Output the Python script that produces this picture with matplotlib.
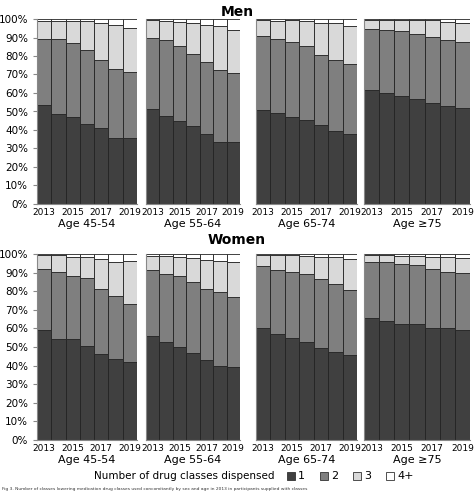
import matplotlib
matplotlib.use("Agg")
import matplotlib.pyplot as plt
import numpy as np

years = [2013, 2014, 2015, 2016, 2017, 2018, 2019]
ages = ["Age 45-54", "Age 55-64", "Age 65-74", "Age \u226575"]
categories = ["1", "2", "3", "4+"]

# cumulative percentages (top of category 1, 2, 3) per panel
men_c1 = [[53.5,48.5,47,43,41,35.5,35.5],[51.5,47.5,45,42,38,33.5,33.5],
          [50.8,49.2,47.2,45.4,42.7,39.3,37.8],[61.6,60,58.2,56.9,54.4,53,51.9]]
men_c2 = [[89,89,87,83,78,73,71.5],[90,88.5,85.5,81,76.5,72.5,71],
          [90.8,89.2,87.4,85.2,80.4,77.7,75.7],[94.8,93.9,93.3,91.9,90.1,88.5,87.6]]
men_c3 = [[99,99,99,99,98,96.5,95],[99.5,99,98.5,98,97,96,94],
          [99.3,99,99.5,99,97.7,97.7,96.4],[99.5,99.5,99.5,99.5,99.5,98.5,98]]
women_c1 = [[59,54.5,54.5,50.5,46,43.5,42],[56,52.5,50,47,43,40,39.5],
            [60.1,57,54.9,52.6,49.4,47.2,45.8],[65.4,63.9,62.5,62.1,60.3,60.3,59.2]]
women_c2 = [[92,90.5,88,87,81,77.5,73],[91.5,89.5,88,85,81,79.5,77],
            [93.7,91.6,90.5,89,86.5,83.7,80.8],[95.9,95.9,94.8,94.1,92.1,90.3,89.9]]
women_c3 = [[99.5,99.5,98.5,98.5,97.5,95.5,96],[99,99,98.5,98,97,96.5,95.5],
            [99.5,99.5,99.5,99,98.5,98.5,97.5],[99.5,99.5,99,99,98.5,98.5,98]]

colors = ["#404040", "#7f7f7f", "#d9d9d9", "#ffffff"]

fig = plt.figure(figsize=(4.74, 4.93), dpi=100)
W, H = 474, 493
panel_x = [(37, 137), (146, 240), (256, 357), (364, 470)]
rows = [("Men", 19, 204, men_c1, men_c2, men_c3, 12),
        ("Women", 254, 440, women_c1, women_c2, women_c3, 240)]

for title, ytop, ybot, c1, c2, c3, ty in rows:
    fig.text(0.5, 1 - ty / H, title, ha="center", va="center",
             fontsize=10, fontweight="bold")
    for i, (x0, x1) in enumerate(panel_x):
        ax = fig.add_axes([x0 / W, 1 - ybot / H, (x1 - x0) / W, (ybot - ytop) / H])
        a = np.array(c1[i]); b = np.array(c2[i]); c = np.array(c3[i])
        vals = [a, b - a, c - b, 100 - c]
        bottom = np.zeros(len(years))
        for v, col in zip(vals, colors):
            ax.bar(years, v, bottom=bottom, width=1.0, color=col,
                   edgecolor="#222222", linewidth=0.6)
            bottom += v
        ax.set_xlim(2012.5, 2019.5)
        ax.set_ylim(0, 100)
        ax.set_xticks([2013, 2015, 2017, 2019])
        ax.tick_params(axis="x", length=0, labelsize=6.5, pad=3)
        for s in ["top", "right"]:
            ax.spines[s].set_visible(False)
        ax.spines["bottom"].set_color("#888888")
        ax.spines["left"].set_color("#888888")
        if i == 0:
            ax.set_yticks(range(0, 101, 10))
            ax.set_yticklabels([f"{t}%" for t in range(0, 101, 10)], fontsize=7.5)
            ax.tick_params(axis="y", length=3, color="#888888")
        else:
            ax.set_yticks([])
        ax.set_xlabel(ages[i], fontsize=8, labelpad=1)

# legend
fig.text(275 / W, 1 - 476 / H, "Number of drug classes dispensed", fontsize=7.5,
         va="center", ha="right")
lx = 287
for cat, col in zip(categories, colors):
    fig.patches.append(plt.Rectangle((lx / W, 1 - 480 / H), 8 / W, 8 / H,
                                     transform=fig.transFigure, facecolor=col,
                                     edgecolor="#333333", linewidth=0.6))
    fig.text((lx + 11) / W, 1 - 476 / H, cat, fontsize=8, va="center")
    lx += 33

fig.text(0.005, 1 - 489 / H,
         "Fig 3. Number of classes lowering medication drug classes used concomitantly by sex and age in 2013 in participants supplied with classes",
         fontsize=3.2, va="center", ha="left", color="#333333")

fig.savefig("out.png", dpi=100)
